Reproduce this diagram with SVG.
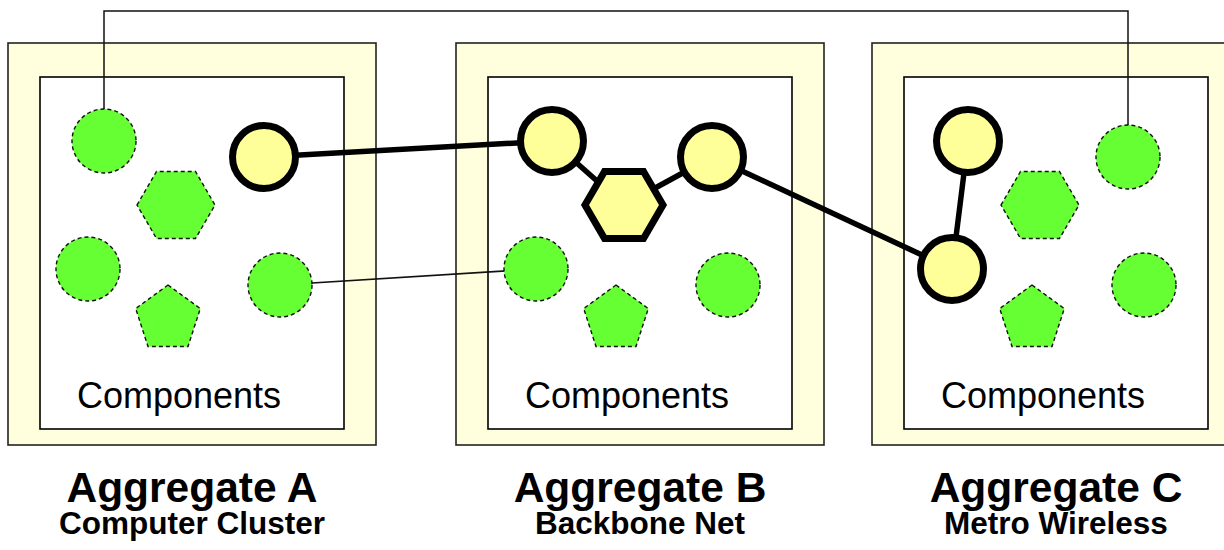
<svg xmlns="http://www.w3.org/2000/svg" xmlns:xlink="http://www.w3.org/1999/xlink" width="1224" height="550" viewBox="0 0 1224 550">
<style>
.outer{fill:#ffffdd;stroke:#222;stroke-width:1.6}
.inner{fill:#fff;stroke:#000;stroke-width:1.6}
.comp{fill:#66ff33;stroke:#111;stroke-width:1.4;stroke-dasharray:4 3}
.act{fill:#ffff99;stroke:#000;stroke-width:7}
.thin{fill:none;stroke:#111;stroke-width:1.5}
.thick{fill:none;stroke:#000;stroke-width:5.5}
.lbl{font-family:"Liberation Sans",Arial,sans-serif;font-size:36px;fill:#000}
.title{font-family:"Liberation Sans",Arial,sans-serif;font-weight:bold;font-size:42.5px;fill:#000;text-anchor:middle}
.sub{font-family:"Liberation Sans",Arial,sans-serif;font-weight:bold;font-size:31.5px;fill:#000;text-anchor:middle}
</style>
<defs>
<polygon id="hex" points="-39,0 -19.5,-33.5 19.5,-33.5 39,0 19.5,33.5 -19.5,33.5"/>
<polygon id="pent" points="0,-34 32.3,-10.5 20,27.5 -20,27.5 -32.3,-10.5"/>
</defs>

<g id="aggregate-a">
<rect class="outer" x="8" y="43" width="368" height="402"/>
<rect class="inner" x="40" y="77" width="304" height="352"/>
<text class="lbl" x="77" y="408">Components</text>
<text class="title" x="192" y="502">Aggregate A</text>
<text class="sub" x="192" y="534">Computer Cluster</text>
</g>
<g id="aggregate-b">
<rect class="outer" x="456" y="43" width="368" height="402"/>
<rect class="inner" x="488" y="77" width="304" height="352"/>
<text class="lbl" x="525" y="408">Components</text>
<text class="title" x="640" y="502">Aggregate B</text>
<text class="sub" x="640" y="534">Backbone Net</text>
</g>
<g id="aggregate-c">
<rect class="outer" x="872" y="43" width="368" height="402"/>
<rect class="inner" x="904" y="77" width="304" height="352"/>
<text class="lbl" x="941" y="408">Components</text>
<text class="title" x="1056" y="502">Aggregate C</text>
<text class="sub" x="1056" y="534">Metro Wireless</text>
</g>

<g id="connectors">
<path class="thin" d="M104,141 V11 H1128 V157"/>
<line class="thin" x1="280" y1="285" x2="536" y2="269"/>
<line class="thick" x1="264" y1="157" x2="552" y2="141"/>
<line class="thick" x1="552" y1="141" x2="624" y2="205"/>
<line class="thick" x1="624" y1="205" x2="712" y2="157"/>
<line class="thick" x1="712" y1="157" x2="952" y2="269"/>
<line class="thick" x1="952" y1="269" x2="968" y2="141"/>
</g>

<g id="a-components">
<circle id="a-c1" class="comp" cx="104" cy="141" r="32"/>
<use id="a-hex" class="comp" xlink:href="#hex" href="#hex" x="176" y="205"/>
<circle id="a-c3" class="comp" cx="88" cy="269" r="32"/>
<use id="a-pent" class="comp" xlink:href="#pent" href="#pent" x="168" y="319"/>
<circle id="a-c5" class="comp" cx="280" cy="285" r="32"/>
<circle id="a-c6" class="act" cx="264" cy="157" r="31.5"/>
</g>
<g id="b-components">
<circle id="b-c1" class="act" cx="552" cy="141" r="31.5"/>
<use id="b-hex" class="act" xlink:href="#hex" href="#hex" x="624" y="205"/>
<circle id="b-c3" class="comp" cx="536" cy="269" r="32"/>
<use id="b-pent" class="comp" xlink:href="#pent" href="#pent" x="616" y="319"/>
<circle id="b-c5" class="comp" cx="728" cy="285" r="32"/>
<circle id="b-c6" class="act" cx="712" cy="157" r="31.5"/>
</g>
<g id="c-components">
<circle id="c-c1" class="act" cx="968" cy="141" r="31.5"/>
<use id="c-hex" class="comp" xlink:href="#hex" href="#hex" x="1040" y="205"/>
<circle id="c-c3" class="act" cx="952" cy="269" r="31.5"/>
<use id="c-pent" class="comp" xlink:href="#pent" href="#pent" x="1032" y="319"/>
<circle id="c-c5" class="comp" cx="1144" cy="285" r="32"/>
<circle id="c-c6" class="comp" cx="1128" cy="157" r="32"/>
</g>
</svg>
